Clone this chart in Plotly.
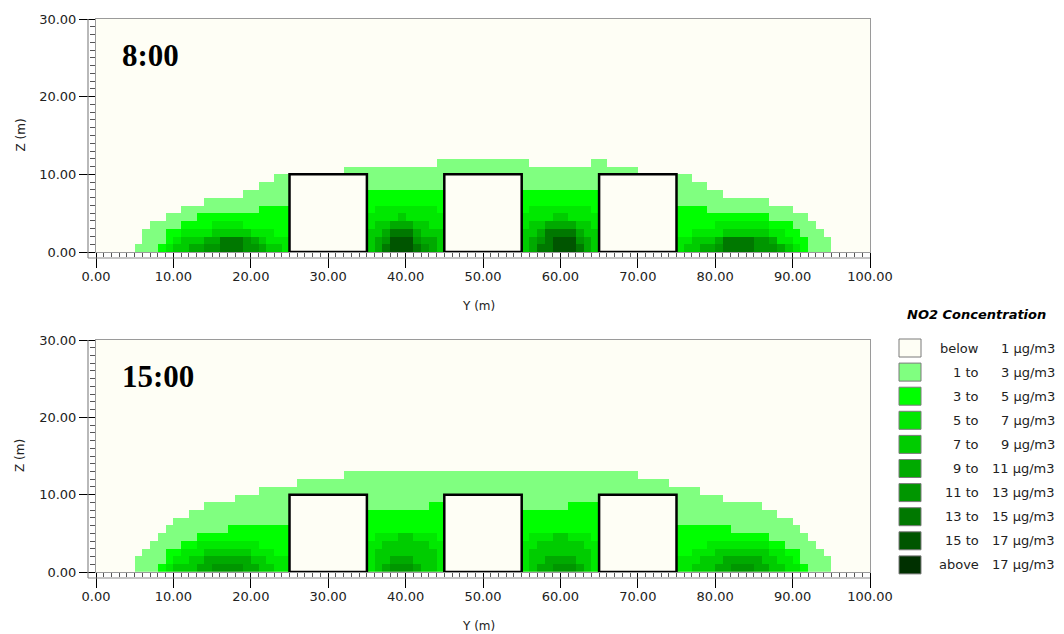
import numpy as np
import plotly.graph_objects as go

# ---------------- data ----------------
N_Y = 100          # 1 m cells along Y (0..100 m)
N_Z = 14           # 1 m cells along Z (only the lowest rows carry values)

legend_left = ["below", "1 to", "3 to", "5 to", "7 to", "9 to", "11 to", "13 to", "15 to", "above"]
legend_right = ["1 µg/m3", "3 µg/m3", "5 µg/m3", "7 µg/m3", "9 µg/m3", "11 µg/m3",
                "13 µg/m3", "15 µg/m3", "17 µg/m3", "17 µg/m3"]
class_colors = ["#FEFEF5", "#80FF80", "#00FF00", "#00E800", "#00CC00", "#00AA00",
                "#009600", "#007800", "#005500", "#003000"]

building_start = [25, 45, 65]   # m
building_width = 10             # m
building_height = 10            # m

# Runs (Y_first, Y_last, height in cells) giving, for every column, how many
# cells from the ground reach at least the given concentration class.
# ---- 8:00 ----
top_c1 = [(5, 5, 1), (6, 6, 3), (7, 8, 4), (9, 10, 5), (11, 13, 6), (14, 18, 7), (19, 20, 8),
          (21, 22, 9), (23, 31, 10), (32, 43, 11), (44, 55, 12), (56, 63, 11), (64, 65, 12),
          (66, 69, 11), (70, 76, 10), (77, 78, 9), (79, 80, 8), (81, 86, 7), (87, 89, 6),
          (90, 91, 5), (92, 92, 4), (93, 93, 3), (94, 94, 2)]
top_c2 = [(8, 8, 1), (9, 10, 3), (11, 12, 4), (13, 20, 5), (21, 24, 6), (35, 44, 8),
          (55, 64, 8), (75, 78, 6), (79, 86, 5), (87, 89, 4), (90, 90, 3), (91, 91, 2)]
top_c3 = [(9, 9, 1), (10, 10, 2), (11, 14, 3), (15, 18, 4), (19, 22, 3), (23, 24, 2),
          (35, 35, 5), (36, 43, 6), (44, 44, 5), (55, 55, 5), (56, 63, 6), (64, 64, 5),
          (75, 76, 2), (77, 79, 3), (80, 86, 4), (87, 88, 3), (89, 89, 2), (90, 90, 1)]
top_c4 = [(10, 10, 1), (11, 14, 2), (15, 19, 3), (20, 21, 2), (22, 23, 1),
          (35, 35, 3), (36, 38, 4), (39, 39, 5), (40, 42, 4), (43, 44, 3),
          (55, 55, 3), (56, 58, 4), (59, 60, 5), (61, 63, 4), (64, 64, 3),
          (76, 76, 1), (77, 80, 2), (81, 86, 3), (87, 87, 2), (88, 89, 1)]
top_c5 = [(12, 13, 1), (14, 20, 2), (21, 21, 1),
          (36, 36, 2), (37, 37, 3), (38, 40, 4), (41, 41, 3), (42, 43, 2),
          (56, 56, 2), (57, 57, 3), (58, 61, 4), (62, 62, 3), (63, 63, 2),
          (78, 79, 1), (80, 87, 2), (88, 88, 1)]
top_c6 = [(14, 15, 1), (16, 19, 2), (20, 20, 1),
          (37, 37, 2), (38, 40, 3), (41, 41, 2), (42, 42, 1),
          (57, 57, 2), (58, 61, 3), (62, 62, 2),
          (80, 80, 1), (81, 86, 2), (87, 87, 1)]
top_c7 = [(16, 18, 2), (37, 37, 1), (38, 40, 3), (41, 41, 1),
          (57, 57, 1), (58, 61, 3), (62, 62, 1), (81, 84, 2)]
top_c8 = [(38, 40, 2), (59, 61, 2)]
top_c9 = []

# ---- 15:00 ----
bot_c1 = [(5, 5, 2), (6, 6, 3), (7, 7, 4), (8, 8, 5), (9, 9, 6), (10, 11, 7), (12, 13, 8),
          (14, 17, 9), (18, 20, 10), (21, 25, 11), (26, 31, 12), (32, 69, 13), (70, 73, 12),
          (74, 77, 11), (78, 80, 10), (81, 85, 9), (86, 87, 8), (88, 89, 7), (90, 90, 6),
          (91, 91, 5), (92, 92, 4), (93, 93, 3), (94, 94, 2)]
bot_c2 = [(8, 8, 1), (9, 10, 3), (11, 12, 4), (13, 16, 5), (17, 24, 6), (35, 42, 8),
          (43, 44, 9), (55, 60, 8), (61, 64, 9), (75, 81, 6), (82, 86, 5), (87, 88, 4),
          (89, 90, 3), (91, 91, 1)]
bot_c3 = [(9, 9, 1), (10, 10, 2), (11, 12, 3), (13, 20, 4), (21, 22, 3), (23, 24, 2),
          (35, 35, 4), (36, 43, 5), (44, 44, 4), (55, 55, 4), (56, 63, 5), (64, 64, 4),
          (75, 76, 2), (77, 78, 3), (79, 86, 4), (87, 88, 3), (89, 89, 2), (90, 90, 1)]
bot_c4 = [(10, 11, 1), (12, 13, 2), (14, 19, 3), (20, 21, 2), (22, 22, 1),
          (36, 36, 3), (37, 38, 4), (39, 40, 5), (41, 42, 4), (43, 43, 3),
          (56, 56, 3), (57, 58, 4), (59, 60, 5), (61, 62, 4), (63, 63, 3),
          (77, 77, 1), (78, 79, 2), (80, 86, 3), (87, 87, 2), (88, 88, 1)]
bot_c5 = [(13, 13, 1), (14, 19, 2), (20, 20, 1),
          (37, 37, 1), (38, 40, 2), (41, 41, 1),
          (57, 57, 1), (58, 61, 2), (62, 62, 1),
          (80, 80, 1), (81, 85, 2), (86, 86, 1)]
bot_c6 = [(15, 18, 1), (38, 40, 1), (59, 61, 1), (82, 84, 1)]
bot_c7 = []
bot_c8 = []
bot_c9 = []

top_levels = [top_c1, top_c2, top_c3, top_c4, top_c5, top_c6, top_c7, top_c8, top_c9]
bot_levels = [bot_c1, bot_c2, bot_c3, bot_c4, bot_c5, bot_c6, bot_c7, bot_c8, bot_c9]


def build_grid(levels):
    z = np.zeros((N_Z, N_Y))
    for k, runs in enumerate(levels, start=1):
        for y0, y1, h in runs:
            z[:h, y0:y1 + 1] = k
    z[z == 0] = np.nan
    return z


W, H = 1064, 634
XL, XR = 96, 870
panels = [
    dict(levels=top_levels, label="8:00", top=19, bottom=252, xa="x", ya="y"),
    dict(levels=bot_levels, label="15:00", top=340, bottom=572, xa="x2", ya="y2"),
]

cs = []
for i in range(9):
    c = class_colors[i + 1]
    cs.append([i / 9, c])
    cs.append([(i + 1) / 9, c])

fig = go.Figure()
shapes = []
annotations = []
FONT = "DejaVu Sans"

xc = np.arange(N_Y) + 0.5
zc = np.arange(N_Z) + 0.5

for idx, p in enumerate(panels):
    fig.add_trace(go.Heatmap(
        x=xc, y=zc, z=build_grid(p["levels"]), colorscale=cs, zmin=0.5, zmax=9.5,
        showscale=False, hoverinfo="skip", xaxis=p["xa"], yaxis=p["ya"], zsmooth=False))
    for b in building_start:
        shapes.append(dict(type="rect", xref=p["xa"], yref=p["ya"], x0=b, x1=b + building_width,
                           y0=0, y1=building_height, fillcolor=class_colors[0],
                           line=dict(color="black", width=2.5), layer="above"))
    # offset axis lines
    shapes.append(dict(type="line", xref="paper", yref="paper",
                       x0=(XL - 8) / W, x1=(XL - 8) / W,
                       y0=1 - p["top"] / H, y1=1 - (p["bottom"] + 6) / H,
                       line=dict(color="#8a8a8a", width=1.2)))
    shapes.append(dict(type="line", xref="paper", yref="paper",
                       x0=(XL - 8) / W, x1=XR / W,
                       y0=1 - (p["bottom"] + 6) / H, y1=1 - (p["bottom"] + 6) / H,
                       line=dict(color="#8a8a8a", width=1.2)))
    annotations.append(dict(text="<b>%s</b>" % p["label"], xref="paper", yref="paper",
                            x=120 / W, y=1 - (p["top"] + 36) / H, xanchor="left", yanchor="middle",
                            showarrow=False, font=dict(family="Liberation Serif", size=31, color="black")))
    annotations.append(dict(text="Z (m)", xref="paper", yref="paper", x=20 / W,
                            y=1 - (p["top"] + p["bottom"]) / 2 / H, textangle=-90,
                            xanchor="center", yanchor="middle", showarrow=False,
                            font=dict(family=FONT, size=12, color="#222")))
    annotations.append(dict(text="Y (m)", xref="paper", yref="paper", x=478 / W,
                            y=1 - (p["bottom"] + 54) / H, xanchor="center", yanchor="middle",
                            showarrow=False, font=dict(family=FONT, size=12, color="#222")))

axis_common = dict(showgrid=False, zeroline=False, showline=True, mirror=True, automargin=False,
                   linecolor="#9a9a9a", linewidth=1, ticks="outside", tickcolor="black",
                   tickformat=".2f", tickfont=dict(family=FONT, size=13, color="#222"))

layout = dict(width=W, height=H, margin=dict(l=0, r=0, t=0, b=0, autoexpand=False),
              paper_bgcolor="white", plot_bgcolor=class_colors[0], showlegend=False)
for p, (xn, yn) in zip(panels, [("xaxis", "yaxis"), ("xaxis2", "yaxis2")]):
    layout[xn] = dict(axis_common, domain=[XL / W, XR / W], range=[0, 100], dtick=10, tick0=0,
                      ticklen=15, ticklabelstandoff=-3, anchor=p["ya"],
                      minor=dict(dtick=1, ticklen=4, ticks="outside", tickcolor="#555"))
    layout[yn] = dict(axis_common, domain=[1 - p["bottom"] / H, 1 - p["top"] / H], range=[0, 30],
                      dtick=10, tick0=0, ticklen=16, anchor=p["xa"],
                      minor=dict(dtick=1, ticklen=5, ticks="outside", tickcolor="#555"))

# legend
annotations.append(dict(text="<b><i>NO2 Concentration</i></b>", xref="paper", yref="paper",
                        x=976 / W, y=1 - 314 / H, xanchor="center", yanchor="middle",
                        showarrow=False, font=dict(family=FONT, size=13, color="black")))
for i in range(10):
    top = 339 + 24.1 * i
    shapes.append(dict(type="rect", xref="paper", yref="paper", x0=899 / W, x1=921 / W,
                       y0=1 - top / H, y1=1 - (top + 18) / H, fillcolor=class_colors[i],
                       line=dict(color="#7a7a7a", width=1)))
    yc = 1 - (top + 9) / H
    annotations.append(dict(text=legend_left[i], xref="paper", yref="paper", x=981 / W, y=yc,
                            xanchor="right", yanchor="middle", showarrow=False,
                            font=dict(family=FONT, size=13, color="#222")))
    annotations.append(dict(text=legend_right[i], xref="paper", yref="paper", x=1057 / W, y=yc,
                            xanchor="right", yanchor="middle", showarrow=False,
                            font=dict(family=FONT, size=13, color="#222")))

layout["shapes"] = shapes
layout["annotations"] = annotations
fig.update_layout(**layout)
fig.write_html("out.html", config={"displayModeBar": False},
               post_script="document.body.style.margin='0';document.body.style.overflow='hidden';")
